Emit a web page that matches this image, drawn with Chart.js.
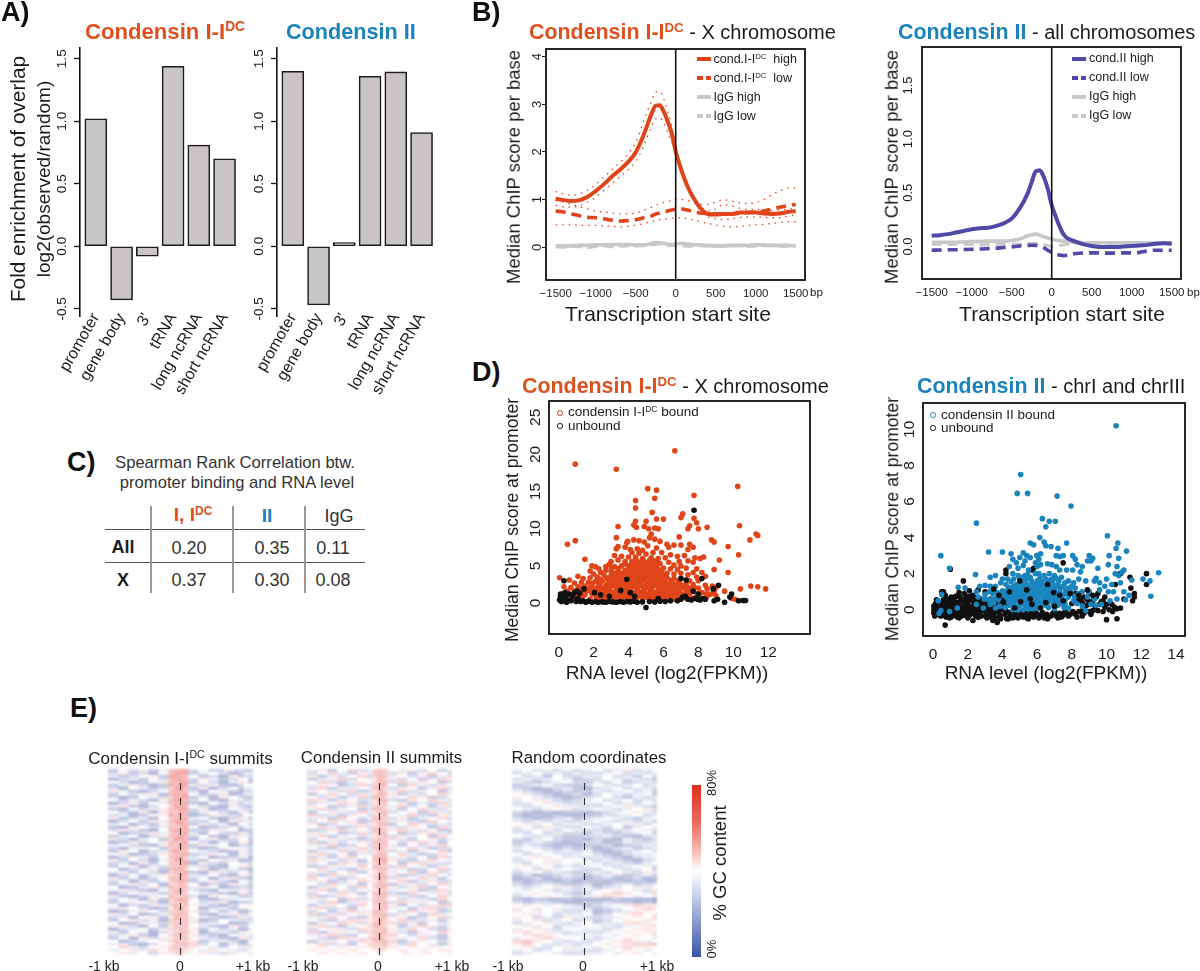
<!DOCTYPE html>
<html lang="en">
<head>
<meta charset="UTF-8">
<title>Condensin binding figure</title>
<script src="https://cdn.jsdelivr.net/npm/chart.js"></script>
<style>
    html, body { margin: 0; padding: 0; background: #fff; overflow: hidden; }
    #page { position: relative; width: 1200px; height: 971px; overflow: hidden; font-family: "Liberation Sans", Arial, sans-serif; color: #1c1c1c; }
    #page canvas { position: absolute; }
    .t { position: absolute; white-space: nowrap; line-height: 1; }
    .t sup { font-size: .62em; line-height: 0; vertical-align: .55em; }
    .or { color: #E0501E; font-weight: bold; font-size: 1.07em; }
    .bl { color: #1A82BC; font-weight: bold; font-size: 1.07em; }
</style>
</head>
<body>
<div id="page"></div>
<script>
// ---- Data ----
const regionLabels = ['promoter', 'gene body', "3'", 'tRNA', 'long ncRNA', 'short ncRNA'];
const regionPos = [1, 2, 3, 4, 5, 6];
const enrichCond1 = [1.02, -0.43, -0.08, 1.44, 0.81, 0.70];
const enrichCond2 = [1.40, -0.47, 0.03, 1.36, 1.395, 0.91];
const enrichTicks = [-0.5, 0, 0.5, 1, 1.5];

// TSS profiles, all series share these bins (bp)
const tssBins = [-1500,-1400,-1300,-1200,-1100,-1000,-900,-800,-700,-600,-500,-400,-300,-250,-200,-150,-100,-50,0,50,100,150,200,250,300,400,500,600,700,800,900,1000,1100,1200,1300,1400,1500];
const tssTicks = [-1500, -1000, -500, 0, 500, 1000, 1500];
const c1High = [1.02,.99,.97,.99,1.06,1.18,1.32,1.48,1.62,1.78,1.99,2.36,2.81,2.97,2.98,2.85,2.64,2.39,2.01,1.73,1.48,1.27,1.10,.96,.84,.70,.69,.70,.70,.73,.73,.73,.71,.70,.71,.74,.76];
const c1HighUp = [1.17,1.12,1.09,1.12,1.2,1.32,1.47,1.62,1.78,1.95,2.2,2.65,3.08,3.26,3.27,3.12,2.85,2.55,2.12,1.80,1.54,1.32,1.15,1.00,.88,.76,.80,.90,.87,.82,.80,.80,.78,.77,.78,.80,.82];
const c1HighLo = [.88,.85,.84,.87,.95,1.05,1.19,1.33,1.48,1.62,1.80,2.12,2.55,2.70,2.72,2.60,2.42,2.22,1.92,1.66,1.42,1.22,1.05,.91,.79,.64,.60,.58,.60,.62,.64,.64,.63,.62,.62,.65,.68];
const c1Low = [.76,.74,.70,.66,.63,.62,.60,.57,.55,.56,.58,.62,.66,.70,.72,.74,.76,.78,.80,.81,.80,.78,.76,.74,.72,.71,.70,.70,.70,.71,.73,.74,.76,.80,.84,.87,.90];
const c1LowUp = [.98,.95,.90,.85,.80,.76,.74,.72,.70,.70,.72,.78,.84,.88,.91,.94,.96,.98,1.00,1.01,1.00,.98,.95,.92,.90,.90,.95,1.00,.97,.93,.92,.94,1.00,1.10,1.18,1.24,1.24];
const c1LowLo = [.47,.47,.47,.46,.46,.46,.45,.44,.43,.44,.46,.50,.54,.56,.58,.59,.60,.61,.61,.62,.61,.60,.58,.56,.54,.50,.47,.44,.43,.44,.46,.47,.48,.50,.52,.54,.54];
const c1IgGHigh = [.03,.03,.03,.04,.04,.05,.05,.06,.06,.06,.05,.05,.08,.10,.10,.08,.07,.06,.07,.08,.08,.07,.06,.05,.05,.04,.03,.03,.04,.04,.04,.05,.05,.04,.04,.04,.03];
const c1IgGLow = [.01,.00,.02,.01,-.01,.02,.03,.01,.02,.03,.02,.03,.05,.06,.07,.05,.04,.03,.04,.05,.03,.02,.02,.03,.03,.02,.02,.02,.03,.03,.02,.02,.03,.03,.02,.02,.02];
const c2High = [.10,.105,.115,.13,.145,.16,.17,.175,.19,.215,.26,.355,.495,.60,.70,.71,.65,.54,.385,.28,.185,.11,.075,.06,.045,.02,.005,-.005,-.005,-.005,0,.005,.01,.015,.025,.03,.025];
const c2Low = [-.035,-.033,-.03,-.03,-.028,-.026,-.024,-.02,-.016,-.01,-.005,.005,.01,.012,.01,.005,-.01,-.035,-.055,-.075,-.08,-.085,-.08,-.072,-.065,-.06,-.06,-.06,-.062,-.062,-.06,-.06,-.055,-.04,-.035,-.035,-.035];
const c2IgGHigh = [.04,.04,.04,.04,.042,.045,.045,.05,.05,.05,.055,.07,.10,.11,.115,.105,.09,.08,.07,.06,.055,.05,.045,.042,.04,.035,.035,.035,.035,.035,.035,.035,.035,.035,.035,.035,.035];
const c2IgGLow = [.02,.02,.018,.02,.02,.018,.015,.018,.02,.02,.02,.02,.025,.03,.03,.02,.015,.01,.0,.005,.01,.015,.02,.025,.03,.03,.03,.03,.03,.03,.03,.03,.03,.03,.03,.03,.03];

// Spearman table
const corrCols = [189, 272, 333];
const corrAll = ['0.20', '0.35', '0.11'];
const corrX = ['0.37', '0.30', '0.08'];

// Promoter scatter, [RNA level, ChIP score]
const scatterTicksX1 = [0, 2, 4, 6, 8, 10, 12];
const scatterTicksY1 = [0, 5, 10, 15, 20, 25];
const scatterTicksX2 = [0, 2, 4, 6, 8, 10, 12, 14];
const scatterTicksY2 = [0, 2, 4, 6, 8, 10];
const boundPts1 = [
[.95,18.7],[3.3,18],[6.65,20.5],[10.25,15.7],[5.1,15.4],[5.6,15.2],[7.75,14.5],[4.4,13.8],[5.5,14.1],[4.4,12.8],[5.35,12.2],[7.1,12],[7,11.5],[7.75,11.4],[5,11],[5.6,11.3],[6,11.3],[4.4,11],[4.3,10.5],[4.45,10.2],[3.4,10.3],[4.9,10.3],[5.15,10],[5.5,10.1],[5.7,10],[7.5,10.4],[7.4,10],[7.9,10.8],[8,10],[8.5,10.2],[10.35,10.4],[11.3,9.3],[11.4,9.1],[10.95,8.5],[.95,8.4],[.5,7.9],[3.3,8.8],[3.9,8.1],[3.95,8.3],[6.9,8.9],[8.75,8.5],[8.9,8.2],[9.7,7.6],[10.3,6.5],[9.2,5.8],[8.9,4.5],[9.7,4.1],[10.4,1.9],[11,2.3],[11.4,2.2],[11.85,1.9],[9.5,1.6],[1.5,5.9],[.05,3.4],
[5.3,9.3],[5.2,8.8],[5.5,8.6],[4.3,8.5],[4.6,8.4],[4.9,8.2],[5.8,8.3],[6.2,7.9],[6.6,7.8],[7,7.8],[7.5,7.9],[7.7,7.5],[7.4,7.2],[6.3,7.5],[5.1,7.7],[5.6,7.4],[3.8,7.5],[3.4,7.6],[3.3,7.3],[4.1,7.2],[4.5,7.3],[4.8,7.1],[4.2,6.8],[4.6,6.7],[5,6.6],[5.4,6.8],[5.9,6.8],[6.4,6.5],[6.8,6.3],[7.2,6.4],[7.8,6.1],[8.1,6],[8.3,6.2],
[3.2,6.4],[3.6,6.3],[4,6.2],[4.4,6.2],[4.8,6],[5.3,6.1],[5.7,6],[6.1,6.1],[6.9,5.6],[7.4,5.7],[7.7,5.5],[3,5.6],[3.4,5.8],[3.8,5.6],[4.2,5.6],[4.6,5.5],[5,5.4],[5.4,5.5],[5.8,5.3],[6.3,5.5],[6.6,5.1],[7,5],[1.9,5],[2.1,4.9],[2.7,4.9],[2.3,4.6],[2.9,5.2],[3.2,4.9],[3.6,5],[4,5],[4.4,4.9],[4.8,4.9],[5.2,4.9],[5.6,4.8],[6,4.7],[6.4,4.6],[6.8,4.5],[7.3,4.7],[7.9,4.6],[8.2,4.1],[7.7,4.1],[8.4,3.6],
[1.1,3.6],[1.8,4.3],[2,3.9],[2.4,4.1],[2.7,4.4],[3,4.3],[3.4,4.3],[3.8,4.4],[4.2,4.3],[4.6,4.2],[5,4.3],[5.4,4.2],[5.8,4.1],[6.2,4],[6.6,3.9],[7,4],[7.4,3.8],[7.9,3.5],[1.4,3.3],[1.8,3.4],[2.2,3.5],[2.6,3.7],[3,3.7],[3.4,3.6],[3.8,3.7],[4.2,3.7],[4.6,3.6],[5,3.7],[5.4,3.6],[5.8,3.5],[6.2,3.4],[6.6,3.3],[7,3.3],[7.5,3],[8,3],[.6,3.1],[.9,2.7],[1.3,2.8],[1.7,2.8],[2.1,2.9],[2.5,3],[2.9,3.1],[3.3,3],[3.7,3],[4.1,3],[4.5,3],[4.9,3.1],[5.3,3],[5.7,2.9],[6.1,2.8],[6.5,2.7],[6.9,2.7],[7.3,2.5],[7.7,2.5],[8.4,2.4],[8.8,2.3],[9,2.1],
[.3,2.2],[.7,2.1],[1.1,2.2],[1.5,2.3],[1.9,2.3],[2.3,2.4],[2.7,2.4],[3.1,2.4],[3.5,2.4],[3.9,2.4],[4.3,2.4],[4.7,2.4],[5.1,2.4],[5.5,2.4],[5.9,2.3],[6.3,2.2],[6.7,2.2],[7.1,2.1],[7.5,2],[8,2],[8.5,1.9],[8.9,1.6],[.5,1.6],[.9,1.6],[1.3,1.7],[1.7,1.7],[2.1,1.8],[2.5,1.8],[2.9,1.8],[3.3,1.8],[3.7,1.8],[4.1,1.8],[4.5,1.8],[4.9,1.8],[5.3,1.8],[5.7,1.7],[6.1,1.7],[6.5,1.6],[6.9,1.5],[7.3,1.5],[7.7,1.6],[8.2,1.4],[8.7,1.2],
[.2,1.2],[.7,1.1],[1.1,1],[1.5,1.1],[1.9,1.2],[2.3,1.2],[2.7,1.2],[3.1,1.2],[3.5,1.2],[3.9,1.2],[4.3,1.2],[4.7,1.2],[5.1,1.2],[5.5,1.2],[5.9,1.2],[6.3,1.1],[6.7,1],[7.1,.9],[7.5,1],[8,.9],[8.5,.9],[9,1],[2.4,.6],[2.7,.7],[3,.5],[3.3,.8],[3.6,.6],[3.9,.7],[4.2,.5],[4.5,.8],[4.8,.6],[5.1,.7],[5.4,.5],[5.7,.8],[6,.6],[6.3,.7],[6.6,.5],[6.9,.5],[7.6,.6],[8,.5],[.9,.6],[1.3,.7],[1.8,.5],[9.9,.6],[10.1,.5],
[2.55,.9],[2.87,1],[3.13,.8],[3.46,1],[3.74,.9],[4.06,.8],[4.33,1],[4.64,.9],[4.96,1],[5.24,.85],[5.58,1],[5.83,.9],[6.17,.85],[6.44,.9],[6.78,.7],[7.22,.7],[7.83,.75],[1.52,1.5],[1.93,1.55],[2.28,1.5],[2.72,1.55],[3.06,1.45],[3.42,1.55],[3.71,1.5],[4.03,1.55],[4.31,1.45],[4.62,1.5],[4.88,1.55],[5.23,1.5],[5.48,1.45],[5.82,1.5],[6.08,1.4],[6.43,1.35],[6.72,1.3],[7.04,1.25],[7.42,1.3],[7.93,1.25],[8.44,1.2],
[1.33,2],[1.77,2.05],[2.21,2.1],[2.63,2.1],[2.97,2.15],[3.31,2.1],[3.62,2.15],[3.94,2.1],[4.18,2.15],[4.52,2.1],[4.83,2.15],[5.12,2.1],[5.37,2.15],[5.72,2.05],[6.03,2],[6.34,1.95],[6.62,1.9],[6.93,1.85],[7.28,1.8],[7.74,2.2],[1.92,2.65],[2.38,2.7],[2.83,2.75],[3.12,2.7],[3.52,2.75],[3.83,2.7],[4.13,2.75],[4.42,2.7],[4.68,2.75],[5.03,2.7],[5.32,2.7],[5.63,2.65],[5.94,2.6],[6.27,2.5],[6.73,2.45],[7.1,2.4],
[2.32,3.25],[2.78,3.35],[3.19,3.3],[3.58,3.35],[3.92,3.3],[4.27,3.35],[4.58,3.3],[4.87,3.4],[5.18,3.35],[5.52,3.3],[5.93,3.2],[6.42,3.05],[6.85,3],[3.23,4],[3.63,4],[4.02,4.05],[4.41,4],[4.78,4],[5.2,3.95],[5.62,3.9],[6.04,3.75],[4.08,4.65],[4.47,4.6],[4.92,4.65],[5.31,4.55],[5.7,4.5],[4.18,5.25],[4.58,5.2],[5.02,5.15],[5.43,5.2],[3.42,4.65],[3.02,4.65],[4.43,5.85],[4.86,5.7],[5.2,5.75],[5.55,5.7],
[2.15,.75],[2.42,1],[2.6,1.4],[2.85,1.35],[3.25,1.55],[3.6,1.05],[3.85,1.45],[4.2,1],[4.4,.65],[4.75,1.05],[5.05,.85],[5.35,.95],[5.65,1.35],[5.95,.95],[6.25,1.4],[6.55,1.1],[6.85,1.15],[7.15,1.1],[7.45,.7],[2.35,2.25],[2.75,2.25],[3,2.55],[3.35,2.55],[3.7,2.3],[4.05,2.55],[4.35,2.25],[4.6,2.55],[4.9,2.3],[5.2,2.6],[5.5,2.55],[5.8,2.5],[6.15,2.45],[6.45,2.35],[6.8,2.05],[3.05,3.45],[3.45,3.15],[3.75,3.5],[4.1,3.5],[4.4,3.55],[4.7,3.45],[5.1,3.5],[5.35,3.4],[5.7,3.25],[6.05,3.1],[3.85,4.1],[4.25,4.05],[4.6,3.95],[5,4],[5.4,4],[5.8,3.85],[4.3,4.75],[4.7,4.5],[5.1,4.5],[5.5,4.4],[5.9,4.4],[3.8,5.25],[4.4,5.35],[4.8,5.4],[5.2,5.3],[5.6,5.2]
];
const unboundPts1 = [
[.05,.4],[.1,.8],[.1,1.2],[.15,.2],[.2,.6],[.25,1],[.3,.3],[.35,1.4],[.4,.7],[.45,.1],[.55,.4],[.6,1.2],[.7,.3],[.8,.9],[.9,1.4],[1,.2],[1.1,.6],[1.25,.2],[1.4,.3],[1.55,.1],[1.7,.25],[1.9,.1],[2.1,.2],[2.25,.1],[2.5,.15],[2.7,.1],[2.9,.2],[3.1,.15],[3.3,.1],[3.5,.2],[3.7,.1],[3.9,.2],[4.1,.15],[4.3,.25],[4.5,.1],[4.8,.15],[5,-.6],[5.2,.2],[5.5,.15],[5.8,.25],[6.1,.2],[6.4,.3],[6.8,.3],[7,.5],[7.1,.8],[7.25,.9],[7.4,.5],[7.6,.4],[7.8,.6],[7.95,.5],[8.1,.4],[8.25,.6],[8.4,.5],[8.9,.3],[9.1,.5],
[.3,3],[1.05,1.6],[1.45,1.9],[1.2,1.3],[2.05,1.4],[2.4,1.1],[2.9,.9],[3.55,1.7],[3.9,3.2],[4.1,1.4],[4.35,.9],[5.7,.6],[7,3.3],[7.3,3.1],[8.2,3.3],[7.75,12.5],[9.9,1.2],[9.8,.8],[10.3,.3],[10.55,.35],[10.7,.35],[9.5,.1],[9.15,2.4],[8.85,1.9],[7.7,1.6],[8,1.2]
];
const boundPts2 = [
[10.55,10.2],[5.05,7.5],[4.85,6.45],[5.45,6.45],[7.15,6.3],[7.95,5.75],[2.5,4.8],[6.3,5.05],[6.7,4.9],[7.05,4.9],[6.5,4.6],[10.05,4.1],[6.15,4],[.45,3],[3.2,3.2],[4,3.2],[.95,2.3],[2.45,1.95],[13,2.05],[12.5,1.6],[12.55,.75],[12.1,1.7],[11.45,1.65],[10.65,3.7],[10.55,3.4],[11.15,3.25],[10.15,3],[10.7,2.85],[10.1,2.5],[10.6,2.4],
[5.6,3.7],[5.8,3.6],[6.4,3.75],[6.5,3.55],[6.8,3.5],[7.2,3.4],[7.7,3.7],[4.5,3.1],[5.2,3.15],[5.4,3],[5,2.9],[4.6,2.8],[4.8,2.6],[5.3,2.7],[5.6,2.9],[6,3],[6.2,3.1],[6.1,2.8],[7.1,3],[7.3,2.95],[7.5,3],[8.05,3],[8.2,2.8],[9,3],[9.2,2.85],[8.9,2.7],[9.1,2.7],[4.4,2.4],[4.9,2.3],[5.2,2.45],[5.5,2.2],[5.9,2.6],[6,2.4],[6.2,2.5],[6.6,2.55],[6.85,2.5],[7.1,2.4],[7.3,2.2],[7.7,2.2],[8.05,2.2],[8.3,2.5],[8.6,2.4],[9.5,2.3],[8.5,2.1],[11,2.2],[10.9,2.1],[10.5,2],[10.7,1.9],[10,1.7],[9.4,1.75],
[3.6,1.9],[4,1.7],[3.3,1.8],[4.6,2],[4.9,1.9],[5.3,1.9],[5.6,1.8],[5.9,2],[6.1,2],[6.4,1.9],[6.7,2],[7,1.9],[7.4,1.8],[7.8,1.6],[8.1,1.5],[8.4,1.7],[8.8,1.6],[9.3,1.6],[9.6,1.5],[9.9,1.3],[10.3,1.4],[10.8,1.5],[11,1],[11.3,.8],[11.1,.55],[3,1.35],[2.7,1.3],[1.45,1.25],[1.85,1.2],[3.3,1.3],[3.6,1.3],[3.9,1.5],[4.2,1.4],[4.5,1.55],[4.8,1.4],[5.1,1.5],[5.4,1.4],[5.7,1.5],[6,1.6],[6.3,1.4],[6.6,1.5],[6.9,1.5],[7.2,1.4],[7.5,1.3],[7.8,1.2],[8.2,1.2],[8.6,1],[9,1],[9.6,1.1],[10.1,1],[10.4,1],[10.6,.6],[10.2,.5],
[2.5,1],[4,1.05],[4.3,1.1],[4.6,1.1],[4.9,1.1],[5.2,1.15],[5.5,1.1],[5.8,1.15],[6.1,1.2],[6.4,1.1],[6.7,1.1],[7,1.1],[7.3,1],[7.6,.9],[4.1,.8],[4.4,.8],[4.7,.85],[5,.8],[5.3,.85],[5.6,.8],[5.9,.85],[6.2,.85],[6.5,.8],[6.8,.8],[7.1,.7],[7.4,.6],[7.8,.7],[8.1,.5],[3.4,.6],[3.8,.55],[4.2,.5],[4.5,.55],[4.8,.5],[5.1,.55],[5.4,.5],[5.7,.55],[6,.55],[6.3,.5],[6.6,.55],[6.9,.45],[4.4,.25],[4.7,.25],[5,.25],[5.3,.25],[5.6,.25],[5.9,.25],[6.2,.25],[6.5,.25],[7.2,.25],[7.6,.3],[8.6,.2],[9.4,.25],[9.7,.3],[4.6,0],[4.9,0],[5.2,0],[5.5,.05],[5.8,.05],[7,.05],[7.8,.1],[8.8,-.05],
[.3,.5],[.5,.85],[.45,-.05],[.95,-.1],[.35,-.2],[1.4,.1],[2.5,.3],[2.9,.1],[3.2,.55],[3.6,.1],[2.6,.7],[3,.85],
[4.15,.12],[4.55,.38],[4.85,.12],[5.15,.4],[5.45,.12],[5.75,.4],[6.05,.1],[6.35,.38],[6.65,.12],[6.95,.25],[7.25,.5],[7.55,.12],[4.25,.68],[4.55,.7],[4.85,.68],[5.15,.7],[5.45,.68],[5.75,.7],[6.05,.7],[6.35,.68],[6.65,.7],[6.95,.65],[7.6,.5],[4.15,.95],[4.45,.97],[4.75,.95],[5.05,.98],[5.35,.97],[5.65,.98],[5.95,1],[6.25,.98],[6.55,.95],[6.85,.95],[7.15,.9],[7.45,.78],[4.35,1.25],[4.65,1.28],[4.95,1.25],[5.25,1.3],[5.55,1.25],[5.85,1.32],[6.15,1.3],[6.45,1.28],[6.75,1.3],[7.05,1.25],[7.35,1.2],[7.65,1.05],[4.3,1.7],[4.65,1.7],[5,1.7],[5.35,1.65],[5.65,1.65],[6.15,1.75],[6.5,1.7],[6.85,1.7],[7.25,1.6],[7.6,1.5],[8,1.3],[3.7,.95],[3.45,.9],[3.85,.2],[3.3,.3],[8.4,.9],[8.9,.7],[9.3,.6],[9.1,.3],
[5.45,1.95],[6.25,1.55],[6.75,1.65],[7.1,1.75],[5.95,1.45],[5.1,1.8],[5.55,.4],[6.4,.65],[6.8,.5],[5.25,.45],[4.35,.45],[4.65,.55],[5.85,.4],[6.15,.45],[6.6,.35],[7.05,.4],[7.45,.35],[8.3,.35],[8.15,.75],[7.95,1],[3.95,.85],[3.65,.65],[3.25,1],[2.95,.6],[3.5,.4]
];
const unboundPts2 = [
[.05,-.2],[.05,0],[.05,.2],[.15,-.1],[.15,.1],[.15,.35],[.25,-.25],[.3,0],[.3,.2],[.4,-.3],[.45,.15],[.55,-.15],[.55,.35],[.65,-.3],[.65,.1],[.75,.5],[.8,-.1],[.85,.2],[.95,-.3],[1,.05],[1,.4],[1.1,-.2],[1.15,.2],[1.2,.6],[1.3,-.3],[1.35,0],[1.4,.4],[1.5,-.15],[1.5,.2],[1.55,.7],[1.65,-.35],[1.7,0],[1.7,.45],[1.8,.15],[1.85,-.2],[1.9,.65],[2,-.05],[2,.35],[2.1,-.3],[2.15,.15],[2.2,.55],[2.3,-.15],[2.35,.3],[2.45,-.35],[2.5,.05],[2.55,.5],[2.65,-.2],[2.7,.2],[2.8,-.35],[2.85,.4],[2.9,-.05],[3,.15],[3.05,-.3],[3.15,.35],[3.2,-.1],[3.3,-.4],[3.35,.1],[3.45,.4],[3.5,-.2],[3.6,-.45],[3.65,.2],[3.75,-.1],[3.85,.4],[3.9,-.35],[4,0],[4.05,.6],[4.15,-.25],[4.25,-.5],[4.3,.3],[4.45,-.35],[4.6,-.45],[4.75,-.25],[4.9,-.45],[5.05,-.25],[5.2,-.4],[5.35,-.2],[5.5,-.35],[5.65,-.2],[5.8,-.4],[5.95,-.2],[6.1,-.45],[6.25,-.3],[6.4,-.45],[6.55,-.25],[6.7,-.35],[6.9,-.2],[7.1,-.35],[7.3,-.2],[7.5,-.3],[7.7,-.2],[7.9,-.25],[8.15,-.2],[8.3,-.4],[8.2,-.25],[8.5,-.1],[8.7,-.2],[9,-.1],[9.2,-.05],[9.5,-.05],[9.8,-.1],[10,-.55],[10.15,0],[10.35,-.1],[10.6,-.5],[10.6,.05],[10.8,.1],
[.7,-.85],[2.3,-.6],[3.7,-.7],[3.45,-.6],[1,2.25],[1.75,1.6],[.5,1],[.6,1],[12.3,2],[12.3,1.4],[11.4,1.2],[11.6,.9],[11.6,.7],[11.5,.5],[11,.6],[10.5,1.4],[10.8,2],[11.35,1.8],[7.5,2.6],[6,3],[5.8,2.3],[5.7,2.2],[4.2,2.2],[4.2,2],[3,1],[2.6,1.1],[2.1,1.05],[1.5,.95],[.7,.8],[1.3,.75],[1.8,.9],[2.3,.8],[8,.35],[8.2,.9],[8.7,.7],[9,.9],[9.4,.7],[9.7,.45],[9.9,.7],[10.3,.3],
[.1,-.35],[.25,.45],[.45,-.35],[.6,.55],[.75,-.4],[.9,.6],[1.05,-.4],[1.25,.45],[1.4,-.4],[1.6,.5],[1.75,-.3],[1.95,.25],[2.15,-.15],[2.3,.65],[2.4,-.1],[2.6,.35],[2.75,-.05],[2.95,.55],[3.1,.05],[3.25,-.25],[3.4,.55],[3.55,0],[3.7,.45],[3.95,.2],[.2,.55],[.35,-.05],[.7,.3],[.85,-.1],[1.1,.5],[1.25,-.1],[1.35,.2],[1.6,-.05],[1.85,.4],[2,.15],[2.25,.05],[2.45,.2],[2.65,.05],[2.8,.2],[3.05,.3],[3.25,.15],[3.5,.2],[3.8,-.2],[4.1,.2],[4.2,-.05],[4.4,-.15],[4.55,-.25],[4.75,-.4],[5,-.35],[5.15,-.15],[5.4,-.45],[5.6,-.35],[5.85,-.15],[6.05,-.3],[6.3,-.15],[6.5,-.4],[6.8,-.35],[7,-.1],[7.4,-.4],[7.6,-.1],[7.8,-.35],[8.05,-.1],[8.4,-.1],[8.65,.05],[8.85,.25],[9.05,.4],[9.35,.2],[9.6,.3],[9.9,.15],
[.5,.05],[.7,-.2],[.95,.1],[1.2,-.3],[1.2,.05],[1.45,.3],[1.55,-.25],[1.75,.15],[1.95,-.3],[2.05,.5],[2.2,-.2],[2.4,.4],[2.55,-.2],[2.75,.45],[2.9,.2],[3.1,-.15],[3.2,.15],[3.4,-.1],[3.55,.3],[3.7,.05],[3.9,.1],[4.1,.45],[1.05,.7],[1.35,.75],[1.65,.6],[1.95,.75],[2.15,.75],[2.45,.65],[2.75,.6],[3,.55],[3.3,.6],[.95,-.45],[1.5,-.45],[2,-.45],[2.6,-.42],[3.1,-.45],[3.9,-.5],[4.35,-.5],[5.5,-.5],[6.6,-.5],[7.2,-.45],[8.6,.4],[9.2,.5],[8.3,.5],[9.5,.9],[8.9,.55],[9.8,.5],[10,.3],[10.45,.15],[8.6,-.35],[9.1,-.25]
];
const unboundOverPts2 = [
[5,1.6],[5.4,1.1],[5.6,.6],[6.5,.4],[7,.2],[7.3,.8],[7.5,.5],[7.9,.9],[8.4,.8],[8.5,.55],[8.9,1.1],[9.2,.8],[6.2,.1],[5.7,.3],[3.8,.8],[4.4,1],[3.5,1.15],[4.7,.1],[6.6,1.4],[5.05,.45],[4.05,.45],[6.95,.95]
];

// Percent GC heat maps, one string per row, 29 bins across 2 kb (GC % = 20 + 4 * digit)
const heatCond1 = [
"225533662244 8899 3355222663322","336622331155 8999 2244553311244","442233556622 9988 5522331166233","113344225533 8998 3366442233552",
"553311224466 8899 2255331144662","224466331122 9899 4433662211355","331155442233 7998 2266113355244","664422113355 8898 3311554422133",
"225533446611 8989 5522336611244","331122554433 7899 2244116655322","552244331166 8998 3355221144633","113366225544 8889 2211553366244",
"446622113355 7998 5533221144322","221155334466 8899 3366112255433","553322661144 8798 2244553311662","334411225566 9898 1122664433255",
"662233441155 7889 4455221133662","113355226644 8998 3322551166344","445511332266 7898 2266334411553","221166553344 8789 5511223366244",
"336644221155 8998 2233664455122","551122336644 7889 4411553322662","224455113366 8898 3355221166443","663311445522 7998 1144662233552",
"112266335544 8889 5533114422662","445533221166 8798 2266445511332","331144665522 7898 3311226655443","226655113344 8988 5544331122662",
"554411223366 7889 2233665511443","113366442255 8897 4455112233661","662255331144 7998 3322556644112","334411662255 8789 1166332255443",
"225566114433 7888 4433221155663","551133446622 8897 5566113344221","446622553311 7889 2211664433552","113355224466 7798 4433552211663",
"662244113355 8888 3355114466221","335511662244 7898 2244663311553","224466335511 7787 5511332266442","551122446633 8788 4466551122332",
"446633221155 7897 6322115544663","113355664422 7887 5544332211662","662211334455 8778 3311665544223","335544116622 7898 6522113344554",
"224466553311 7788 5533446611223","551133226644 7878 6644221133556","446655331122 6897 5511334422665","112244665533 7787 6633552244113",
"663355112244 7888 5522114466335","334411556622 6887 6544331122663","225566334411 7878 6611225544333","551122664433 7787 6633445511224",
"446633115522 6878 5544221166335","113344552266 7787 6622553344114","662255441133 6788 6511334422665","334466221155 7887 6633221155444",
"225511663344 6778 6544332211663","551133445566 7877 6622446633115","446622113355 6788 7733551144226","557744335566 7877 6655443355664",
"445566447755 7786 6544665544335","556644553366 6776 5566443366554"
];
const heatCond2 = [
"446622557733 4788 5544663355224","335577442266 4887 3366224477553","662244335577 3788 4455336622447","224466773355 4687 6633552244776",
"557733224466 5788 3377446655223","446655223377 3788 5522774433665","337722664455 4887 3366552244773","665544337722 3687 4477336655224",
"224477553366 4788 6622443355776","553366224477 3887 4455776622335","776622445533 4788 3322665577443","334455776622 3678 5566224433776",
"665522334477 4787 4477335522663","447733665522 3887 6622557744335","225566443377 4688 3355662277443","773344226655 3778 5544773322666",
"446622775533 4887 3366224455773","335577446622 3787 6644332277554","662233554477 4688 2255776633443","557744223366 3787 4433665522776",
"223366774455 4887 6677443355222","664455223377 3788 5522336677443","447722665533 4678 3366445522775","335566443322 3787 7744225566334",
"772244335566 4888 5533667744225","446677223355 3778 4422553366775","553322446677 4887 6655774422333","224455773366 3687 3344226655772",
"667733552244 4788 5577442233665","334422667755 5888 4466335522773","776655334422 5889 6633224477554","445522776633 4788 5522667744333",
"223366445577 5887 3377554422665","557744332266 4788 6644223355773","664433557722 5687 4455772266334","332277664455 4788 6622334477553",
"775544223366 5788 3366557744225","446622335577 4687 5577224466333","553377446622 5788 2244663355774","224466553377 5788 6633447722556",
"667722443355 4687 4455662233774","335544776622 5888 3322775544663","772233665544 5788 6644332255776","446655227733 4787 5533664422775",
"553377224466 5888 3377446655223","224466553377 5778 6622553344777","667733442255 5788 4455226677334","335522667744 6887 5533774466223",
"772244335566 6888 3366552277445","446677553322 6788 6644223355773","553322447766 6787 5577334466225","224455776633 6887 7733662255444",
"667733224455 7887 5522447766335","335566443377 6778 6644775533226","772244665533 7888 6633224455776","446677332255 6787 7755336644225",
"553322776644 7887 6644557733224","224466553377 6888 7722446655336","667733442255 7778 6633775544226","556655665566 6777 6655665566555",
"665566556655 5676 5566556655666","556655665566 5565 5556655665556"
];
const heatRandom = [
"445533443344 3344 5533446633445","334455334433 4433 3344553344334","553344225533 3344 4455334422553","334433445544 2233 3355443344332",
"443322334455 3322 4433552233443","223344553322 2233 5544334455334","332211223344 2211 3344553344443","443322112233 2232 4433445533442",
"554433221122 3311 3355443344552","665544332211 2233 4455332244334","445566443322 3344 5533445533443","334455664433 3344 4455334433554",
"443344556644 4433 3344556644332","554433445566 3344 5544334455663","332211221122 2211 2233445566443","221122112211 1122 2233344455334",
"332211223344 2233 4455443322445","443344334433 3344 5544334433442","556644553344 4433 3344556644335","445533664433 3355 4433552244556",
"334455443355 4433 3322334455443","443355334433 3322 4433223344552","554433443322 2233 3344332211334","332244553322 2211 3322114433223",
"223344332211 2233 3311224433334","334433221122 1122 2233112233443","445544332233 2233 1122334422334","334455443344 3344 2211223344553",
"553344554433 4455 3322113344445","445566445544 4433 4433221133444","334455664455 5544 3344332211334","443355446655 4455 4433443322445",
"556644553344 3344 5544334455443","445533664455 4433 3355443344552","334455334433 2233 4433554433664","223311223344 3322 3344332233442",
"112233112233 2211 2233112233112","221122221122 1122 2211221122211","332233443322 2233 1122334422334","443344556644 3344 2233445566445",
"554455443344 3344 4455665544336","445566554433 2233 5566776655447","334455665544 3344 6677665544556","221122211122 1111 1111221111110",
"332233332211 1122 2233222211221","556655445544 3322 3344556677666","665544556644 4433 2233445566776","445566554433 3344 1122334466665",
"556644553344 4455 2233556677556","665533443366 4433 3344445566557","445566334455 3344 2233556655446","334455664433 4455 3344446677665",
"556644553344 4455 5544334455667","445566443355 5544 4433445566665","667755664433 4433 3344556655667","556677665544 4455 4455445566556",
"445566776655 5544 3344556655554","778866554433 4433 4455667766445","667755443344 3344 5566556677778","556644335566 4455 4455667766665",
"445533445544 4433 3344556655445","334455554433 3344 4455445566554"
];

// ---- Helpers ----
const page = document.getElementById('page');
Chart.defaults.animation = false;
Chart.defaults.font.family = '"Liberation Sans", Arial, sans-serif';
Chart.defaults.color = '#1c1c1c';
Chart.defaults.plugins.legend.display = false;
Chart.defaults.plugins.tooltip.enabled = false;

const ORANGE = '#DF4519';
const BLUE = '#1A84BE';
const PURPLE = '#5049A8';
const GREY = '#C8C8C8';

// text centred on x,y unless opts say otherwise
function put(html, x, y, opts = {}) {
    const el = document.createElement('div');
    el.className = 't';
    el.innerHTML = html;
    el.style.left = x + 'px';
    el.style.top = y + 'px';
    el.style.fontSize = (opts.size || 14) + 'px';
    if (opts.color) el.style.color = opts.color;
    if (opts.bold) el.style.fontWeight = 'bold';
    const tx = opts.left ? '0' : '-50%';
    el.style.transform = `translate(${tx},-50%)` + (opts.rot ? ` rotate(${opts.rot}deg)` : '');
    page.appendChild(el);
}

function box(x, y, w, h, css) {
    const el = document.createElement('div');
    el.style.cssText = `position:absolute;left:${x}px;top:${y}px;width:${w}px;height:${h}px;${css}`;
    page.appendChild(el);
}

function addCanvas(left, top, width, height) {
    const c = document.createElement('canvas');
    c.width = width;
    c.height = height;
    c.style.left = left + 'px';
    c.style.top = top + 'px';
    c.style.width = width + 'px';
    c.style.height = height + 'px';
    page.appendChild(c);
    return c;
}

const framePlugin = {
    id: 'frameBox',
    afterDraw(chart) {
        const a = chart.chartArea, ctx = chart.ctx;
        ctx.save();
        ctx.strokeStyle = '#111';
        ctx.lineWidth = 1.8;
        ctx.strokeRect(a.left, a.top, a.right - a.left, a.bottom - a.top);
        ctx.restore();
    }
};

// Chart with a plot area placed exactly at area {l,r,t,b}
function plotAt(area, bottom, config) {
    const marginL = 60, marginR = 14, marginT = 8;
    const canvas = addCanvas(area.l - marginL, area.t - marginT, area.r - area.l + marginL + marginR, area.b - area.t + marginT + bottom);
    config.options.responsive = false;
    config.options.layout = { padding: { top: marginT, right: marginR, left: 0, bottom: 0 } };
    const sx = config.options.scales.x, sy = config.options.scales.y;
    sx.afterFit = s => { s.height = bottom; s.paddingLeft = s.paddingRight = s.paddingTop = s.paddingBottom = 0; };
    sy.afterFit = s => { s.width = marginL; s.paddingLeft = s.paddingRight = s.paddingTop = s.paddingBottom = 0; };
    return new Chart(canvas, config);
}

const fixedTicks = list => s => { s.ticks = list.map(v => ({ value: v })); };

function xyTicks(list, o) {
    return Object.assign({ afterBuildTicks: fixedTicks(list) }, o);
}

// ---- Panel A ----
function enrichChart(area, values) {
    plotAt(area, 90, {
        type: 'bar',
        data: { datasets: [{
            data: regionPos.map((p, i) => ({ x: p, y: values[i] })),
            backgroundColor: '#C8C5C4',
            borderColor: '#1c1c1c',
            borderWidth: 1.6,
            borderSkipped: false,
            barThickness: 22
        }] },
        options: { scales: {
            x: xyTicks(regionPos, {
                type: 'linear', min: 0.385, max: 6.6, offset: false,
                // labels start a little above the axis box, so no clipping to it
                beforeFit: s => { s._computeLabelArea = () => null; },
                grid: { display: false }, border: { display: false },
                ticks: { autoSkip: false, minRotation: 60, maxRotation: 60, padding: -14, font: { size: 16 }, callback: v => regionLabels[v - 1] }
            }),
            y: xyTicks(enrichTicks, {
                min: -0.558, max: 1.586,
                grid: { drawOnChartArea: false, tickLength: 6, color: '#111', tickColor: '#111', tickWidth: 1.3 },
                border: { display: true, color: '#111', width: 1.6 },
                ticks: { minRotation: 90, crossAlign: 'center', padding: 0, font: { size: 13.5 }, callback: v => v.toFixed(1) }
            })
        } }
    });
}
enrichChart({ l: 80, r: 240, t: 48, b: 316 }, enrichCond1);
enrichChart({ l: 277, r: 437, t: 48, b: 316 }, enrichCond2);

put('Fold enrichment of overlap', 18, 179, { size: 20.8, rot: -90 });
put('log2(observed/random)', 43, 179, { size: 19, rot: -90 });
put('A)', 1, 12, { size: 27, bold: true, left: true, color: '#111' });
put('<span class="or">Condensin I-I<sup>DC</sup></span>', 85, 32, { size: 20.7, left: true });
put('<span class="bl">Condensin II</span>', 286, 32, { size: 20.2, left: true });

// ---- Panel B ----
const onBins = ys => ys.map((y, i) => ({ x: tssBins[i], y }));
const solid = (ys, color, w) => ({ data: onBins(ys), borderColor: color, borderWidth: w || 4, pointRadius: 0, cubicInterpolationMode: 'monotone' });
const dashed = (ys, color, w) => ({ data: onBins(ys), borderColor: color, borderWidth: w || 3.6, borderDash: [10, 6], pointRadius: 0, cubicInterpolationMode: 'monotone' });
const dotted = (ys, color) => ({ data: onBins(ys), borderColor: color, borderWidth: 1.3, borderDash: [1.5, 5], pointRadius: 0, cubicInterpolationMode: 'monotone' });

function tssChart(area, ymin, ymax, yTicks, yFormat, yTickLen, datasets) {
    const tss = { data: [{ x: 0, y: ymin }, { x: 0, y: ymax }], borderColor: '#111', borderWidth: 1.6, pointRadius: 0 };
    plotAt(area, 24, {
        type: 'line',
        data: { datasets: [tss].concat(datasets) },
        options: { scales: {
            x: xyTicks(tssTicks, {
                type: 'linear', min: -1621, max: 1616,
                grid: { display: false, drawTicks: false }, border: { display: false },
                ticks: { autoSkip: false, maxRotation: 0, padding: 7, font: { size: 11.5 }, callback: v => String(v).replace('-', '\u2212') }
            }),
            y: xyTicks(yTicks, {
                min: ymin, max: ymax,
                grid: { drawOnChartArea: false, tickLength: yTickLen, tickColor: '#111', color: '#111' }, border: { display: false },
                ticks: { minRotation: 90, crossAlign: 'center', padding: 5 - yTickLen, font: { size: 13 }, callback: yFormat }
            })
        } },
        plugins: [framePlugin]
    });
}

tssChart({ l: 546, r: 805, t: 49, b: 280 }, -0.686, 4.16, [0, 1, 2, 3, 4], v => String(v), 4, [
    solid(c1High, ORANGE), dashed(c1Low, ORANGE),
    dotted(c1HighUp, ORANGE), dotted(c1HighLo, ORANGE), dotted(c1LowUp, ORANGE), dotted(c1LowLo, ORANGE),
    solid(c1IgGHigh, GREY, 3.6), dashed(c1IgGLow, GREY, 3)
]);
tssChart({ l: 922, r: 1181, t: 47, b: 279 }, -0.303, 1.859, [0, 0.5, 1, 1.5], v => v.toFixed(1), 0, [
    solid(c2High, PURPLE), dashed(c2Low, PURPLE),
    solid(c2IgGHigh, GREY, 3.6), dashed(c2IgGLow, GREY, 3)
]);

function legendLine(x, y, color, isDashed) {
    const fill = isDashed ? `repeating-linear-gradient(90deg,${color} 0 6px,transparent 6px 9px)` : color;
    box(x, y - 1.75, 14, 3.5, `background:${fill}`);
}
const legRowsB1 = ['cond.I-I<sup>DC</sup>&nbsp; high', 'cond.I-I<sup>DC</sup>&nbsp; low', 'IgG high', 'IgG low'];
const legRowsB2 = ['cond.II high', 'cond.II low', 'IgG high', 'IgG low'];
const legColors = [[ORANGE, false], [ORANGE, true], [GREY, false], [GREY, true]];
const legColors2 = [[PURPLE, false], [PURPLE, true], [GREY, false], [GREY, true]];
[59, 78, 97, 116].forEach((y, i) => {
    legendLine(697, y, legColors[i][0], legColors[i][1]);
    put(legRowsB1[i], 713.5, y - 0.5, { size: 12.5, left: true });
});
[58, 77, 96, 115].forEach((y, i) => {
    legendLine(1072, y + 1, legColors2[i][0], legColors2[i][1]);
    put(legRowsB2[i], 1089, y, { size: 12.5, left: true });
});

put('B)', 472, 12, { size: 27, bold: true, left: true, color: '#111' });
put('<span class="or">Condensin I-I<sup>DC</sup></span> - X chromosome', 529, 33, { size: 20, left: true });
put('<span class="bl">Condensin II</span> - all chromosomes', 898, 33, { size: 20, left: true });
put('Median ChIP score per base', 514, 167, { size: 18.5, rot: -90 });
put('Median ChIP score per base', 892, 167, { size: 18.5, rot: -90 });
put('Transcription start site', 668, 313, { size: 21 });
put('Transcription start site', 1062, 313, { size: 21 });
put('bp', 810, 293, { size: 11.5, left: true });
put('bp', 1187, 293, { size: 11.5, left: true });

// ---- Panel C ----
put('C)', 67, 462, { size: 27, bold: true, left: true, color: '#111' });
put('Spearman Rank Correlation btw.', 235, 463, { size: 16.6, color: '#333' });
put('promoter binding and RNA level', 237, 483, { size: 16.6, color: '#333' });
box(105, 528.5, 260, 1.5, 'background:#555');
box(105, 561.5, 260, 1.5, 'background:#555');
[150, 231.5, 303.5].forEach(x => box(x, 506, 2, 87, 'background:#9a9a9a'));
put('<span class="or">I, I<sup>DC</sup></span>', 193, 515, { size: 18 });
put('<span class="bl">II</span>', 267, 516, { size: 18 });
put('IgG', 339, 516, { size: 18, color: '#333' });
put('All', 123, 547, { size: 18, bold: true });
put('X', 123, 580, { size: 18, bold: true });
corrCols.forEach((x, i) => {
    put(corrAll[i], x, 548, { size: 18, color: '#333' });
    put(corrX[i], x, 580, { size: 18, color: '#333' });
});

// ---- Panel D ----
// layers: [points, colour], first one is drawn on top
function scatterChart(area, xr, yr, xTicks, yTicks, layers) {
    const set = l => ({ data: l[0].map(p => ({ x: p[0], y: p[1] })), backgroundColor: l[1], borderWidth: 0, pointRadius: 2.8 });
    plotAt(area, 30, {
        type: 'scatter',
        data: { datasets: layers.map(set) },
        options: { scales: {
            x: xyTicks(xTicks, {
                type: 'linear', min: xr[0], max: xr[1],
                grid: { display: false, drawTicks: false }, border: { display: false },
                ticks: { autoSkip: false, maxRotation: 0, padding: 9, font: { size: 15.5 } }
            }),
            y: xyTicks(yTicks, {
                min: yr[0], max: yr[1],
                grid: { display: false, drawTicks: false }, border: { display: false },
                ticks: { minRotation: 90, crossAlign: 'center', padding: 5, font: { size: 15.5 } }
            })
        } },
        plugins: [framePlugin]
    });
}
scatterChart({ l: 549, r: 810, t: 401, b: 634 }, [-.556, 14.39], [-4.17, 27.2], scatterTicksX1, scatterTicksY1, [[unboundPts1, '#111'], [boundPts1, ORANGE]]);
scatterChart({ l: 923, r: 1185, t: 403, b: 636 }, [-.577, 14.52], [-1.455, 11.46], scatterTicksX2, scatterTicksY2, [[unboundOverPts2, '#111'], [boundPts2, BLUE], [unboundPts2, '#111']]);

put('D)', 472, 372, { size: 27, bold: true, left: true, color: '#111' });
put('<span class="or">Condensin I-I<sup>DC</sup></span> - X chromosome', 522, 387, { size: 20, left: true });
put('<span class="bl">Condensin II</span> - chrI and chrIII', 917, 387, { size: 20, left: true });
put('Median ChIP score at promoter', 513, 520, { size: 17.6, rot: -90 });
put('Median ChIP score at promoter', 893, 519, { size: 17.6, rot: -90 });
put('RNA level (log2(FPKM))', 667, 672, { size: 19 });
put('RNA level (log2(FPKM))', 1046, 672, { size: 19 });

function legendDot(x, y, color) {
    box(x - 3, y - 3, 3.5, 3.5, `border:1.5px solid ${color};border-radius:50%`);
}
legendDot(560, 413, '#D9331F');
legendDot(560, 426, '#111');
put('condensin I-I<sup>DC</sup> bound', 568, 412, { size: 13.5, left: true });
put('unbound', 568, 425.5, { size: 13.5, left: true });
legendDot(933, 415, BLUE);
legendDot(933, 428, '#111');
put('condensin II bound', 941, 414.5, { size: 13.5, left: true });
put('unbound', 941, 428, { size: 13.5, left: true });

// ---- Panel E ----
function heatColor(gc) {
    const blue = [58, 76, 160], red = [225, 45, 40];
    const t = Math.abs(gc - 40) / 40;
    const c = gc < 40 ? blue : red;
    return `rgb(${c.map(v => Math.round(255 + (v - 255) * t)).join(',')})`;
}

function heatChart(left, rows) {
    const cells = rows.map(r => [...r.replace(/\s/g, '')].map(d => 20 + 4 * Number(d)));
    const nCols = 29;
    const edge = i => -1000 + i * 2000 / nCols;
    const datasets = [];
    for (let c = 0; c < nCols; c++) {
        datasets.push({
            data: cells.map(() => [edge(c), edge(c + 1)]),
            backgroundColor: cells.map(r => heatColor(r[c] === undefined ? 36 : r[c])),
            borderWidth: 0,
            categoryPercentage: 1,
            barPercentage: 1,
            grouped: false
        });
    }
    const canvas = addCanvas(left, 769, 145, 186);
    canvas.style.filter = 'blur(0.9px)';
    new Chart(canvas, {
        type: 'bar',
        data: { labels: rows.map((r, i) => i), datasets },
        options: {
            responsive: false,
            indexAxis: 'y',
            layout: { padding: 0 },
            scales: {
                x: { type: 'linear', min: -1000, max: 1000, display: false },
                y: { type: 'category', display: false }
            }
        }
    });
    // summit line sits on its own canvas so it stays sharp over the softened map
    new Chart(addCanvas(left, 769, 145, 186), {
        type: 'line',
        data: { datasets: [{
            data: [{ x: 0, y: 0 }, { x: 0, y: 1 }],
            borderColor: 'rgba(25,25,25,.85)',
            borderWidth: 1.1,
            borderDash: [7, 8],
            pointRadius: 0
        }] },
        options: {
            responsive: false,
            layout: { padding: 0 },
            scales: {
                x: { type: 'linear', min: -1000, max: 1000, display: false },
                y: { min: 0, max: 1.04, display: false }
            }
        }
    });
}
heatChart(108, heatCond1);
heatChart(307, heatCond2);
heatChart(512, heatRandom);

put('E)', 70, 708, { size: 27, bold: true, left: true, color: '#111' });
put('Condensin I-I<sup>DC</sup> summits', 180.5, 758, { size: 17 });
put('Condensin II summits', 381.5, 758, { size: 16.8 });
put('Random coordinates', 589, 758, { size: 16.8 });
[[104, 180, 253], [303, 378, 452], [508, 583, 657]].forEach(p => {
    put('-1 kb', p[0], 966, { size: 14 });
    put('0', p[1], 966, { size: 14 });
    put('+1 kb', p[2], 966, { size: 14 });
});
box(692, 785, 9, 172, 'background:linear-gradient(to bottom,#DE2E1C 0%,#EC6A5E 22%,#F9C4C0 40%,#fff 50%,#C6CEE8 65%,#7F90CB 82%,#3E52A8 100%)');
put('80%', 711, 783, { size: 13, rot: -90 });
put('0%', 711, 949, { size: 13, rot: -90 });
put('% GC content', 720, 863, { size: 18.5, rot: -90 });
</script>
</body>
</html>
